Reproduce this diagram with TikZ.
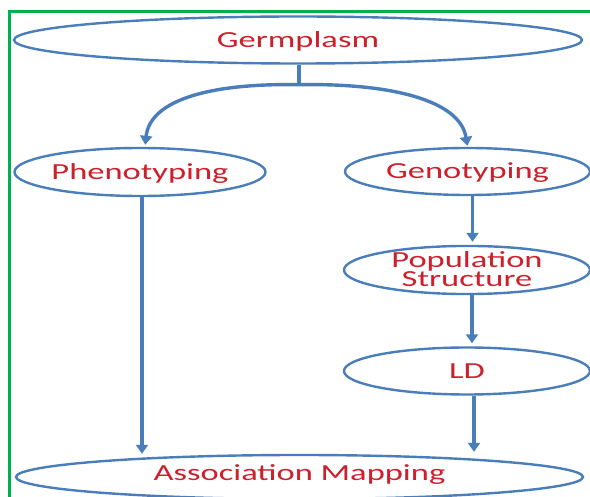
\documentclass[tikz,border=0pt]{standalone}
\usepackage{fontspec}
\setmainfont{Carlito}
\usepackage{graphicx}
\usetikzlibrary{shapes.geometric,arrows.meta}
\definecolor{lineblue}{RGB}{74,126,187}
\definecolor{textred}{RGB}{205,32,44}
\definecolor{framegreen}{RGB}{0,176,80}
\newcommand{\sx}[1]{\scalebox{1.5}[1]{#1}}
\tikzset{
  oval/.style={ellipse, draw=lineblue, line width=2.4pt, inner sep=0pt,
    text=textred, font=\fontsize{23}{19}\selectfont,
    text height=14.8pt, text depth=0pt},
  arr/.style={draw=lineblue, line width=3.4pt,
    -{Triangle[length=9pt,width=12pt]}},
  plain/.style={draw=lineblue, line width=3.4pt}
}
\begin{document}
\begin{tikzpicture}[x=1pt,y=-1pt]
\useasboundingbox (0,0) rectangle (590,497);
\fill[white] (0,0) rectangle (590,497);
% frame
\draw[framegreen, line width=3pt] (9,499) -- (9,12) -- (590,12);
% nodes
\node[oval, minimum width=568pt, minimum height=47pt] (germ) at (298,40) {\sx{Germplasm}};
\node[oval, minimum width=251pt, minimum height=48pt] (pheno) at (140,172) {\sx{Phenotyping}};
\node[oval, minimum width=245pt, minimum height=47pt] (geno) at (467.5,171.5) {\sx{Genotyping}};
\node[oval, minimum width=246pt, minimum height=46pt, align=center,
      text height=34pt, text depth=0pt] (pop) at (467,270) {\sx{Population}\\\sx{Structure}};
\node[oval, minimum width=246pt, minimum height=47pt] (ld) at (467,371) {\sx{LD}};
\node[oval, minimum width=567pt, minimum height=44pt, text depth=7pt] (assoc) at (299.5,477) {\sx{Association Mapping}};
% connectors
\coordinate (split) at ([xshift=1pt,yshift=-20pt]germ.south);
\draw[plain] ([xshift=1pt]germ.south) -- (split);
\draw[arr, shorten >=2pt] (split) .. controls (210,83) and (150,100) .. ([xshift=5pt]pheno.north);
\draw[arr, shorten >=1pt] (split) .. controls (390,83) and (460,100) .. (geno.north);
\draw[arr] ([xshift=2pt]pheno.south) -- ([xshift=2pt]pheno.south |- assoc.north);
\draw[arr, shorten >=3pt] ([xshift=5pt]geno.south) -- ([xshift=5pt]geno.south |- pop.north);
\draw[arr, shorten >=3pt] ([xshift=5pt]pop.south) -- ([xshift=5pt]pop.south |- ld.north);
\draw[arr, shorten >=2pt] ([xshift=7pt]ld.south) -- ([xshift=7pt]ld.south |- assoc.north);
\end{tikzpicture}
\end{document}
